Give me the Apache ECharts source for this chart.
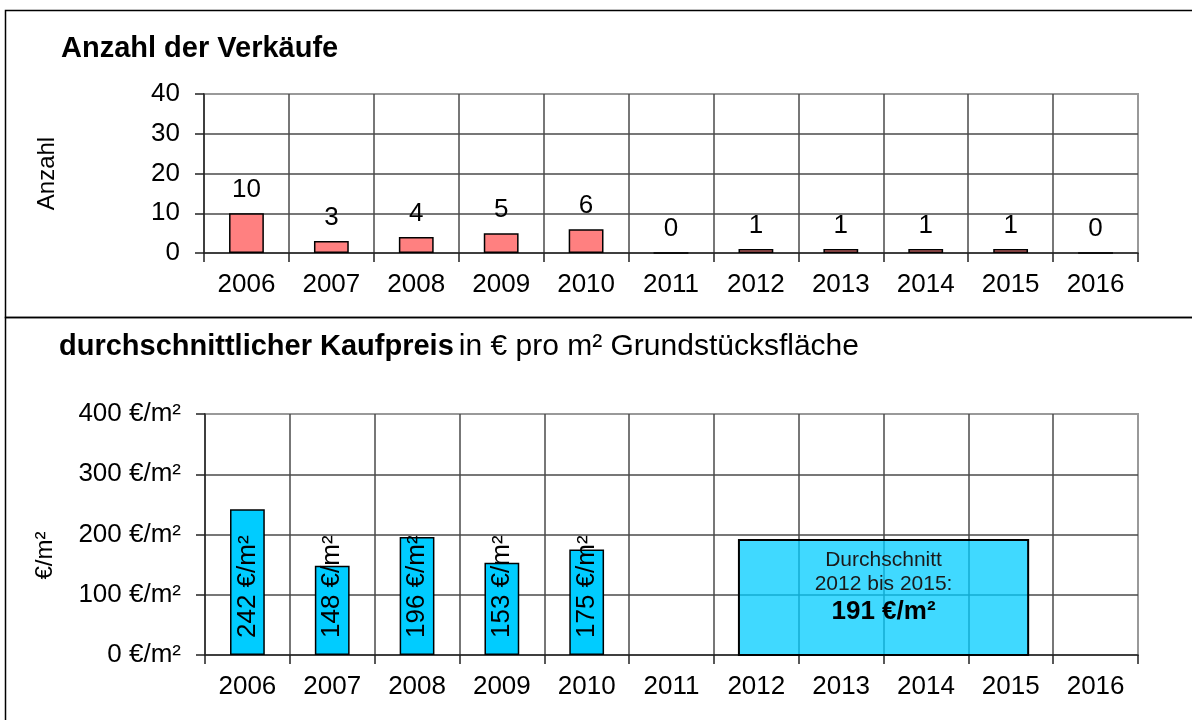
<!DOCTYPE html>
<html>
<head>
<meta charset="utf-8">
<script src="https://cdn.jsdelivr.net/npm/echarts@6/dist/echarts.min.js"></script>
<style>
  html, body { margin: 0; padding: 0; background: #fff; }
  #chart { width: 1192px; height: 720px; }
</style>
</head>
<body>
<div id="chart"></div>
<script>
// Jahre (Kategorien)
const years = ['2006', '2007', '2008', '2009', '2010', '2011', '2012', '2013', '2014', '2015', '2016'];
// Anzahl der Verkäufe
const salesCount = [10, 3, 4, 5, 6, 0, 1, 1, 1, 1, 0];
// durchschnittlicher Kaufpreis in €/m² (nur 2006-2010 einzeln)
const avgPrice = [242, 148, 196, 153, 175, null, null, null, null, null, null];
// Durchschnitt 2012 bis 2015
const periodFrom = '2012';
const periodTo = '2015';
const periodAvg = 191;
// Achsen
const countTicks = [0, 10, 20, 30, 40];
const priceTicks = [0, 100, 200, 300, 400];

const chart = echarts.init(document.getElementById('chart'));
const FONT = "'Liberation Sans', Arial, sans-serif";
const BAR_RATIO = 0.41;
const gridDark = '#4a4a4a';
const axisDark = '#222';

function catAxis(gridIndex) {
  return {
    type: 'category',
    gridIndex: gridIndex,
    data: years,
    boundaryGap: true,
    axisLine: { lineStyle: { color: axisDark, width: 1.5 } },
    axisTick: { show: true, interval: 0, length: 9, lineStyle: { color: axisDark, width: 1.5 } },
    axisLabel: { interval: 0, color: '#000', fontSize: 26, fontFamily: FONT, margin: 19 },
    splitLine: { show: true, interval: 0, showMinLine: false, showMaxLine: false, lineStyle: { color: gridDark, width: 1.5 } }
  };
}

function valAxis(gridIndex, ticks, name, fmt, nameGap, namePad) {
  return {
    type: 'value',
    gridIndex: gridIndex,
    min: ticks[0],
    max: ticks[ticks.length - 1],
    interval: ticks[1] - ticks[0],
    name: name,
    nameLocation: 'middle',
    nameGap: nameGap,
    nameTextStyle: { color: '#000', fontSize: 24, fontFamily: FONT, padding: namePad },
    axisLine: { show: true, lineStyle: { color: axisDark, width: 1.5 } },
    axisTick: { show: true, length: 9, lineStyle: { color: axisDark, width: 1.5 } },
    axisLabel: { color: '#000', fontSize: 26, fontFamily: FONT, margin: 24, formatter: fmt },
    splitLine: { show: true, showMinLine: false, showMaxLine: false, lineStyle: { color: gridDark, width: 1.5 } }
  };
}

const option = {
  animation: false,
  backgroundColor: '#fff',
  textStyle: { fontFamily: FONT },
  title: [
    {
      text: 'Anzahl der Verkäufe',
      left: 61, top: 34, padding: 0,
      textStyle: { fontSize: 29, fontWeight: 'bold', color: '#000', fontFamily: FONT }
    },
    {
      text: '{b|durchschnittlicher Kaufpreis} {n|in € pro m² Grundstücksfläche}',
      left: 59, top: 332, padding: 0,
      textStyle: {
        fontFamily: FONT,
        fontWeight: 'normal',
        rich: {
          b: { fontSize: 29, fontWeight: 'bold', color: '#000', fontFamily: FONT },
          n: { fontSize: 30, fontWeight: 'normal', color: '#000', fontFamily: FONT }
        }
      }
    }
  ],
  graphic: [
    { type: 'rect', shape: { x: 5.5, y: 10.5, width: 1200, height: 307 }, style: { fill: 'none', stroke: '#000', lineWidth: 1.5 }, silent: true },
    { type: 'rect', shape: { x: 5.5, y: 317.5, width: 1200, height: 420 }, style: { fill: 'none', stroke: '#000', lineWidth: 1.5 }, silent: true }
  ],
  grid: [
    { left: 204, right: 54, top: 94, height: 159, show: true, borderColor: '#999', borderWidth: 2, backgroundColor: 'transparent' },
    { left: 205, right: 54, top: 414, height: 241, show: true, borderColor: '#999', borderWidth: 2, backgroundColor: 'transparent' }
  ],
  xAxis: [catAxis(0), catAxis(1)],
  yAxis: [
    valAxis(0, countTicks, 'Anzahl', '{value}', 145, 0),
    valAxis(1, priceTicks, '€/m²', '{value} €/m²', 148, [0, 42, 0, 0])
  ],
  series: [
    {
      type: 'bar',
      xAxisIndex: 0, yAxisIndex: 0,
      data: salesCount,
      barWidth: (BAR_RATIO * 100) + '%',
      itemStyle: { color: '#FF8080', borderColor: '#000', borderWidth: 1.5 },
      label: { show: true, position: 'top', distance: 10, color: '#000', fontSize: 26, fontFamily: FONT }
    },
    {
      type: 'bar',
      xAxisIndex: 1, yAxisIndex: 1,
      data: avgPrice,
      barWidth: (BAR_RATIO * 100) + '%',
      itemStyle: { color: '#00CCFF', borderColor: '#000', borderWidth: 1.5 },
      label: {
        show: true, position: 'insideBottom', rotate: 90, align: 'left', verticalAlign: 'middle',
        distance: 17, color: '#000', fontSize: 26, fontFamily: FONT,
        formatter: function (p) { return p.value + ' €/m²'; }
      }
    },
    {
      type: 'custom',
      xAxisIndex: 1, yAxisIndex: 1,
      z: 5,
      data: [[years.indexOf(periodFrom), years.indexOf(periodTo), periodAvg]],
      renderItem: function (params, api) {
        const half = api.size([1, 0])[0] * BAR_RATIO / 2;
        const p0 = api.coord([api.value(0), api.value(2)]);
        const p1 = api.coord([api.value(1), 0]);
        const x0 = p0[0] - half, x1 = p1[0] + half;
        const cx = (x0 + x1) / 2;
        return {
          type: 'group',
          children: [
            {
              type: 'rect',
              shape: { x: x0, y: p0[1], width: x1 - x0, height: p1[1] - p0[1] },
              style: { fill: 'rgba(0, 204, 255, 0.75)', stroke: '#000', lineWidth: 2 }
            },
            {
              type: 'text',
              style: {
                x: cx, y: p0[1] + 8,
                text: 'Durchschnitt\n' + periodFrom + ' bis ' + periodTo + ':\n{v|' + api.value(2) + ' €/m²}',
                align: 'center', verticalAlign: 'top',
                fontSize: 21, lineHeight: 24, fill: '#1a1a1a', fontFamily: FONT,
                rich: { v: { fontSize: 26, lineHeight: 32, fontWeight: 'bold', fill: '#000', fontFamily: FONT } }
              }
            }
          ]
        };
      }
    }
  ]
};

chart.setOption(option);
</script>
</body>
</html>
